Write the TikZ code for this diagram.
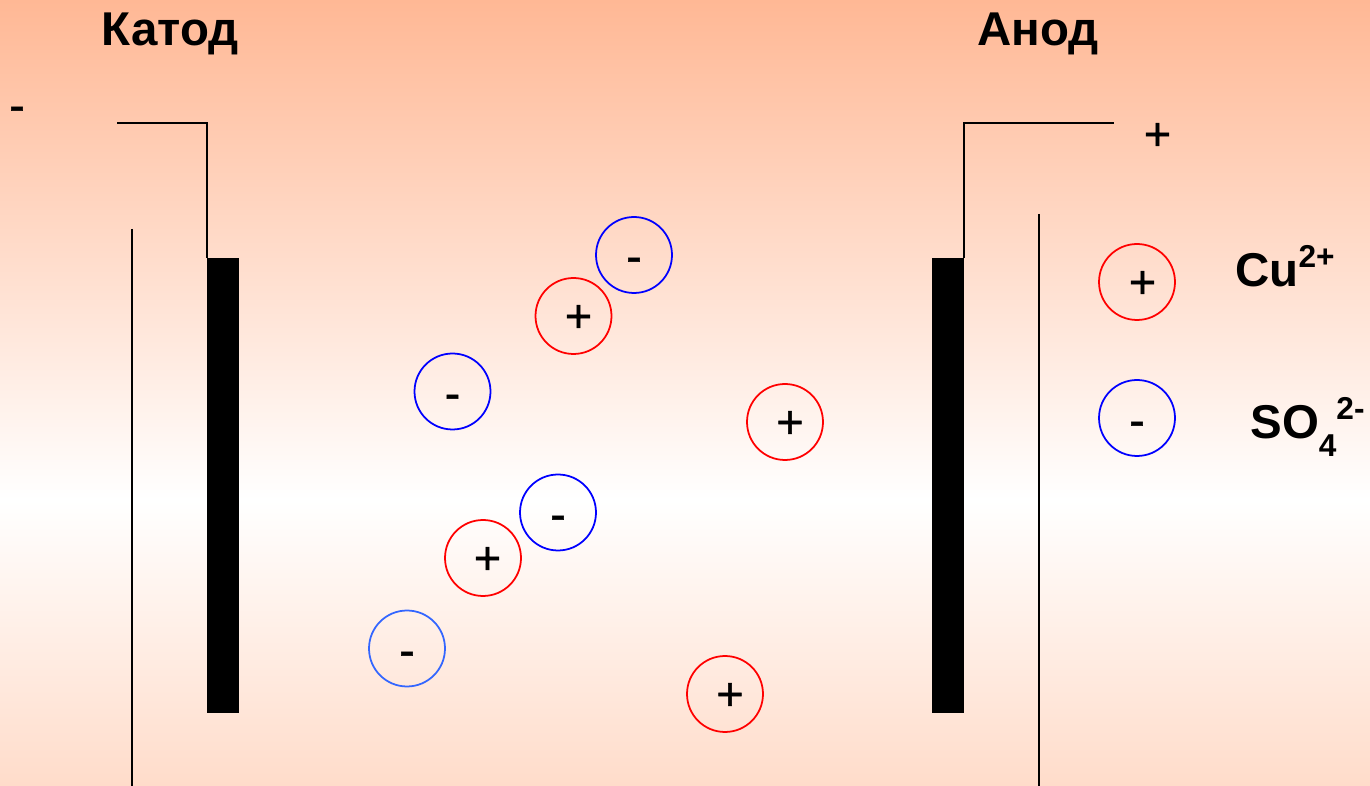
\documentclass[tikz,border=0pt]{standalone}
\usepackage{fontspec}
\setmainfont{Liberation Sans}
\newfontfamily\signfont{Liberation Sans}[FakeBold=1]
\definecolor{peachtop}{HTML}{FFB895}
\definecolor{peachbot}{HTML}{FFDCCA}
\definecolor{ionblue}{HTML}{3366FF}
\newcommand{\bigsize}{\fontsize{27}{30}\selectfont}
\newcommand{\signsize}{\signfont\fontsize{26.5}{30}\selectfont}
\newcommand{\supsize}{\fontsize{18}{20}\selectfont}

\begin{document}
\begin{tikzpicture}[x=0.02cm,y=-0.02cm]
\tikzstyle{ion}=[circle,draw,line width=1pt,minimum size=1.52cm,inner sep=0pt]
\tikzstyle{plusion}=[ion,draw=red]
\tikzstyle{minusion}=[ion,draw=blue]
\tikzstyle{charge}=[inner sep=0pt,font=\signsize]
\tikzstyle{title}=[inner sep=0pt,font=\bigsize\bfseries]
\tikzstyle{formula}=[inner sep=0pt,anchor=base west,font=\bigsize\bfseries]
\tikzstyle{electrode}=[fill=black,inner sep=0pt,minimum width=0.64cm,minimum height=9.1cm]
\tikzstyle{wire}=[line width=1pt]
\useasboundingbox (0,0) rectangle (1370,786);
% background
\shade[top color=peachtop,bottom color=white] (0,0) rectangle (1370,500);
\shade[top color=white,bottom color=peachbot] (0,500) rectangle (1370,786);
% electrodes
\node[electrode] (cathode) at (223,485.5) {};
\node[electrode] (anode) at (948,485.5) {};
\coordinate (cathodeend) at (117,123);
\coordinate (anodeend) at (1114,123);
\draw[wire] (cathode.north west) |- (cathodeend);
\draw[wire] (anode.north east) |- (anodeend);
% vessel walls
\coordinate (walltopl) at (132,229);
\coordinate (wallbotl) at (132,786);
\coordinate (walltopr) at (1039,214);
\coordinate (wallbotr) at (1039,786);
\draw[wire] (walltopl) -- (wallbotl);
\draw[wire] (walltopr) -- (wallbotr);
% titles
\node[title] (katod) at (170,34) {Катод};
\node[title] (anod) at (1038,34) {Анод};
\node[charge] (minusterm) at (17,114) {-};
\node[charge] (plusterm) at (1157.5,136.5) {+};
% ions
\node[minusion] (m1) at (634,255) {};
\node[plusion] (p1) at (573.5,316) {};
\node[minusion] (m2) at (452.5,391.5) {};
\node[plusion] (p2) at (785,422) {};
\node[minusion] (m3) at (558,512.5) {};
\node[plusion] (p3) at (483,558) {};
\node[ion,draw=ionblue] (m4) at (407,648.5) {};
\node[plusion] (p4) at (725,694) {};
\node[charge] (m1s) at (634,265) {-};
\node[charge] (p1s) at (578.5,318.5) {+};
\node[charge] (m2s) at (452.5,402) {-};
\node[charge] (p2s) at (790,424.5) {+};
\node[charge] (m3s) at (558,523) {-};
\node[charge] (p3s) at (487.5,560.5) {+};
\node[charge] (m4s) at (407,659) {-};
\node[charge] (p4s) at (730,696.5) {+};
% legend
\node[plusion] (lp) at (1137,282) {};
\node[minusion] (lm) at (1137,418) {};
\node[charge] (lps) at (1142.5,284.5) {+};
\node[charge] (lms) at (1137,429) {-};
\node[formula] (cu) at (1235,287) {Cu\raisebox{0.38cm}{\supsize 2+}};
\node[formula] (so) at (1250,438.5) {SO\raisebox{-0.36cm}{\supsize 4}\raisebox{0.38cm}{\supsize 2-}};
\end{tikzpicture}
\end{document}
